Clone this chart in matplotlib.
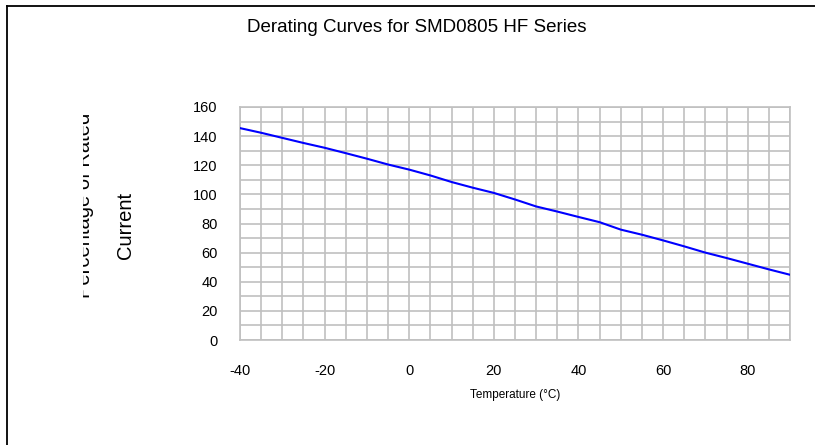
import numpy as np
import matplotlib
matplotlib.use("Agg")
import matplotlib.pyplot as plt
from matplotlib.lines import Line2D
from matplotlib.transforms import Bbox

# ---- data ----
temperature = [-40, -35, -30, -25, -20, -15, -10, -5, 0, 5, 10, 15, 20,
               25, 30, 35, 40, 45, 50, 55, 60, 65, 70, 75, 80, 85, 90]
percent_rated = [145.5, 142.3, 138.8, 135.3, 132.0, 128.3, 124.5, 120.5, 117.0,
                 113.0, 108.5, 104.6, 101.0, 96.5, 91.7, 88.2, 84.5, 80.9, 75.8,
                 72.3, 68.4, 64.3, 60.0, 56.3, 52.4, 48.5, 44.8]
x_ticks = [-40, -20, 0, 20, 40, 60, 80]
y_ticks = [0, 20, 40, 60, 80, 100, 120, 140, 160]
title = "Derating Curves for SMD0805 HF Series"
x_label = "Temperature (°C)"
y_label_1 = "Percentage of Rated"
y_label_2 = "Current"

plt.rcParams['font.family'] = ['Liberation Sans', 'DejaVu Sans']
plt.rcParams['axes.unicode_minus'] = False

W, H = 815, 445
fig = plt.figure(figsize=(W / 100, H / 100), dpi=100)
fig.patch.set_facecolor('white')

# outer chart frame: only left and top edges fall inside the picture
fx, fy = 6.5 / W, 1 - 6 / H
fig.add_artist(Line2D([fx, fx], [0, fy], transform=fig.transFigure,
                      color='black', linewidth=1.3))
fig.add_artist(Line2D([fx, 1], [fy, fy], transform=fig.transFigure,
                      color='black', linewidth=1.3))

ax = fig.add_axes([240 / W, 1 - 340 / H, 550 / W, 233 / H])
ax.plot(temperature, percent_rated, color='#0000FF', linewidth=1.5, zorder=3)

ax.set_xlim(-40, 90)
ax.set_ylim(0, 160)
ax.set_xticks(x_ticks)
ax.set_yticks(y_ticks)
ax.set_xticks(np.arange(-40, 91, 5), minor=True)
ax.set_yticks(np.arange(0, 161, 10), minor=True)
ax.grid(which='both', color='#C0C0C0', linewidth=1.2, zorder=0)
ax.tick_params(which='both', length=0)
ax.tick_params(axis='x', pad=17, labelsize=10.5)
ax.tick_params(axis='y', pad=16, labelsize=10.5)
for s in ax.spines.values():
    s.set_color('#C0C0C0')
    s.set_linewidth(1.2)

fig.text(417 / W, 1 - 27 / H, title, ha='center', va='center', fontsize=13.5)
fig.text(515 / W, 1 - 395 / H, x_label, ha='center', va='center', fontsize=8.5)

t2 = fig.text(126 / W, 1 - 225 / H, y_label_2, rotation=90, ha='center',
              va='center', fontsize=14.5)
t1 = fig.text(84 / W, 1 - 205 / H, y_label_1, rotation=90, ha='center',
              va='center', fontsize=14.5)
clip = Bbox.from_extents(83, H - 300, 200, H - 100)
t1.set_clip_box(clip)
t1.set_clip_on(True)

fig.savefig('out.png', dpi=100, facecolor='white')
